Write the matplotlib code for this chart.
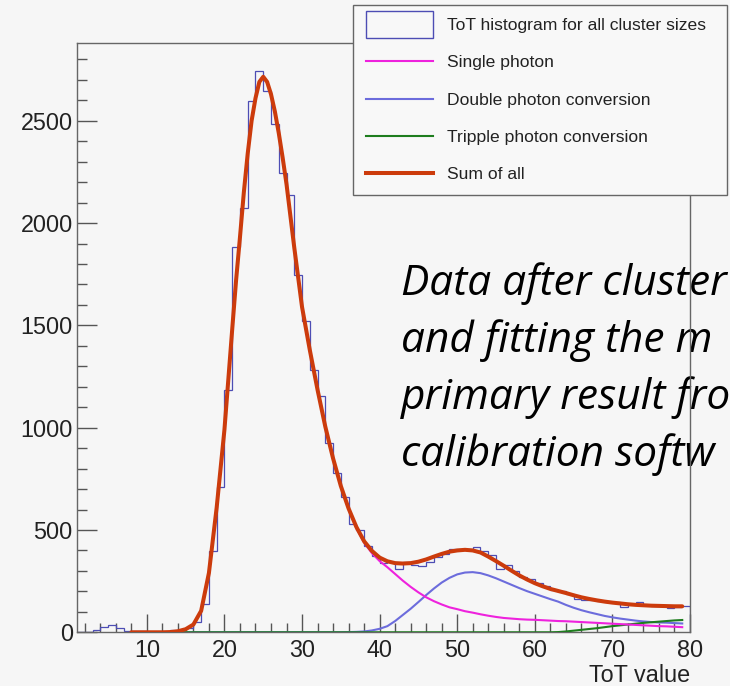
import numpy as np
import matplotlib
matplotlib.use('Agg')
import matplotlib.pyplot as plt
from matplotlib.ticker import MultipleLocator
from matplotlib.patches import Patch, Rectangle
from matplotlib.lines import Line2D
from matplotlib.legend_handler import HandlerPatch

# ToT histogram, one bin per ToT value (left edges 1..79)
hist_edges = np.arange(1, 81)
hist_counts = [0, 2, 11, 24, 36, 20, 8, 5, 5, 0,
               0, 0, 10, 10, 22, 52, 136, 399, 709, 1186,
               1884, 2074, 2596, 2745, 2645, 2485, 2246, 2136, 1748, 1522,
               1280, 1154, 926, 778, 660, 528, 499, 421, 373, 339,
               345, 310, 345, 330, 322, 345, 370, 385, 405, 408,
               405, 415, 398, 378, 308, 330, 300, 270, 262, 243,
               228, 208, 200, 188, 163, 160, 160, 152, 146, 150,
               125, 137, 150, 132, 130, 128, 117, 125, 130]

# fitted components
sum_x = [8, 9, 10, 11, 12, 13, 14, 15, 16, 17, 18, 19, 20, 21, 21.5,
         22, 22.5, 23, 23.5, 24, 24.5, 25, 25.5, 26, 26.5, 27, 27.5, 28,
         29, 30, 31, 32, 33, 34, 35, 36, 37, 38, 39, 40, 41, 42, 43, 44,
         45, 46, 47, 48, 49, 50, 51, 52, 53, 54, 55, 56, 57, 58, 59, 60,
         61, 62, 63, 64, 65, 66, 67, 68, 69, 70, 71, 72, 73, 74, 75, 76,
         77, 78, 79]
sum_y = [0, 0, 0, 0, 0, 1, 5, 15, 38, 105, 290, 610, 990, 1480, 1720,
         1930, 2150, 2340, 2500, 2610, 2690, 2715, 2690, 2630, 2545, 2440, 2320, 2190,
         1880, 1590, 1380, 1185, 1005, 850, 715, 605, 515, 445, 398, 365, 347, 338, 336, 338,
         345, 356, 370, 383, 394, 400, 403, 400, 390, 370, 348, 325, 301, 278, 258, 240,
         225, 212, 202, 192, 181, 171, 163, 156, 150, 145, 141, 137, 134, 132, 130, 129,
         128, 127, 127]

single_x = np.arange(36, 80)
single_y = [603, 510, 438, 387, 348, 318, 285, 252, 222, 195,
            171, 152, 136, 122, 113, 103, 96, 88, 81, 75,
            70, 67, 64, 62, 61, 59, 57, 55, 54, 52,
            50, 48, 46, 44, 42, 40, 38, 36, 34, 32,
            30, 29, 27, 25]

double_x = np.arange(8, 80)
double_y = [0, 0, 0, 0, 0, 0, 0, 0, 0, 0,
            0, 0, 0, 0, 0, 0, 0, 0, 0, 0,
            0, 0, 0, 0, 0, 0, 0, 0, 1, 2,
            4, 9, 17, 30, 55, 85, 115, 148, 182, 214,
            243, 266, 283, 292, 294, 289, 278, 264, 248, 232,
            216, 201, 188, 175, 162, 150, 134, 120, 108, 98,
            89, 80, 73, 67, 62, 57, 53, 50, 48, 47,
            45, 43]

triple_x = np.arange(8, 80)
triple_y = [0, 0, 0, 0, 0, 0, 0, 0, 0, 0,
            0, 0, 0, 0, 0, 0, 0, 0, 0, 0,
            0, 0, 0, 0, 0, 0, 0, 0, 0, 0,
            0, 0, 0, 0, 0, 0, 0, 0, 0, 0,
            0, 0, 0, 0, 0, 0, 0, 0, 0, 0,
            0, 0, 0, 0, 0, 1, 4, 8, 12, 16,
            20, 25, 30, 34, 38, 42, 46, 49, 52, 55,
            58, 60]

labels = ['ToT histogram for all cluster sizes', 'Single photon',
          'Double photon conversion', 'Tripple photon conversion', 'Sum of all']
# the slide text, as much of it as shows inside the picture
note_lines = ['Data after cluster', 'and fitting the m',
              'primary result fro', 'calibration softw']

bg = '#f6f6f6'
c_hist = '#4d4db4'
c_single = '#ee22dd'
c_double = '#6c6cdc'
c_triple = '#1e7d1e'
c_sum = '#cc3b0c'

plt.rcParams['font.family'] = ['Liberation Sans', 'DejaVu Sans']

fig = plt.figure(figsize=(7.3, 6.86), dpi=100, facecolor=bg)
ax = fig.add_axes([0.1055, 0.0783, 0.8397, 0.859])
ax.set_facecolor('none')

ax.stairs(hist_counts, hist_edges, color=c_hist, lw=0.9, zorder=2)
ax.plot(double_x, double_y, color=c_double, lw=1.5, zorder=3)
ax.plot(triple_x, triple_y, color=c_triple, lw=1.5, zorder=3)
ax.plot(single_x, single_y, color=c_single, lw=1.5, zorder=3)
ax.plot(sum_x, sum_y, color=c_sum, lw=2.9, zorder=4, solid_capstyle='round')

ax.set_xlim(1, 80)
ax.set_ylim(0, 2880)
ax.xaxis.set_major_locator(MultipleLocator(10))
ax.xaxis.set_minor_locator(MultipleLocator(2))
ax.yaxis.set_major_locator(MultipleLocator(500))
ax.yaxis.set_minor_locator(MultipleLocator(100))
ax.tick_params(which='both', direction='in', top=False, right=False,
               color='#555555', labelcolor='#222222', labelsize=16.8, width=1)
ax.tick_params(axis='y', which='major', length=14.4, pad=3)
ax.tick_params(axis='y', which='minor', length=7.2)
ax.tick_params(axis='x', which='major', length=13, pad=5)
ax.tick_params(axis='x', which='minor', length=6.5)
for s in ax.spines.values():
    s.set_color('#666666')
    s.set_linewidth(1)

ax.set_xlabel('ToT value', loc='right', fontsize=16.8, color='#222222', labelpad=1)

# italic slide note overlapping the frame
for i, line in enumerate(note_lines):
    ax.text(401 / 730, 1 - (295 + 57 * i) / 686, line, transform=fig.transFigure,
            fontsize=30.5, style='italic', family='Open Sans', color='black',
            va='baseline', ha='left', clip_on=False, zorder=1)


def tall_rect(legend, orig_handle, xdescent, ydescent, width, height, fontsize):
    return Rectangle((-xdescent, -ydescent - 0.6 * height), width, 2.2 * height)


handles = [Patch(facecolor='none', edgecolor=c_hist, lw=1),
           Line2D([], [], color=c_single, lw=1.5),
           Line2D([], [], color=c_double, lw=1.5),
           Line2D([], [], color=c_triple, lw=1.5),
           Line2D([], [], color=c_sum, lw=2.9)]
leg = fig.legend(handles, labels, loc='upper left',
                 bbox_to_anchor=(353 / 730, 1 - 190 / 686, 374 / 730, 185 / 686),
                 mode='expand', borderaxespad=0, fontsize=12.6, labelspacing=1.25,
                 handlelength=3.8, handletextpad=0.8, borderpad=0.75,
                 fancybox=False, framealpha=1, facecolor='#f8f8f8', edgecolor='#666666',
                 handler_map={Patch: HandlerPatch(patch_func=tall_rect)})
leg.get_frame().set_linewidth(1)
for t in leg.get_texts():
    t.set_color('#222222')

fig.savefig('out.png', dpi=100, facecolor=bg)
